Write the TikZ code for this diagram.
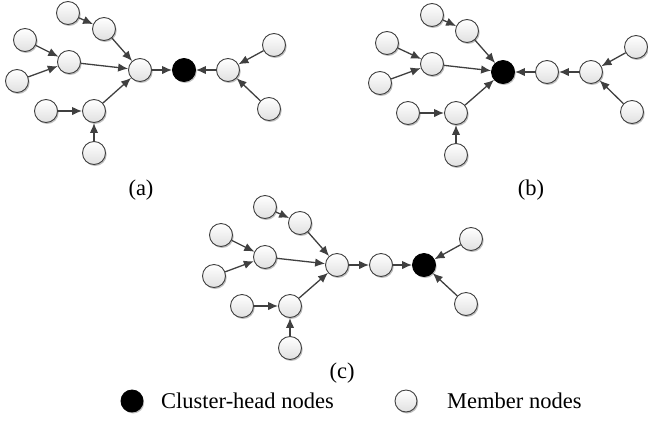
\documentclass[tikz,border=0pt]{standalone}
\usepackage{fontspec}
\setmainfont{Liberation Serif}
\usetikzlibrary{arrows.meta,shadows}
\begin{document}
\begin{tikzpicture}[x=1pt,y=-1pt,
  mem/.style={circle,draw=black!75,line width=0.9pt,minimum size=23pt,inner sep=0pt,
    top color=white,bottom color=black!12,
    drop shadow={shadow xshift=1.2pt,shadow yshift=-1.5pt,opacity=0.25,fill=black}},
  head/.style={circle,draw=black,line width=0.9pt,minimum size=23pt,inner sep=0pt,
    fill=black,
    drop shadow={shadow xshift=1.2pt,shadow yshift=-1.5pt,opacity=0.25,fill=black}},
  lhead/.style={head,minimum size=22pt},
  lmem/.style={mem,minimum size=22pt},
  con/.style={draw=black!75,line width=1.3pt,-{Latex[length=10pt,width=8.5pt]}},
  lab/.style={font=\fontsize{22.5}{26}\selectfont,inner sep=0pt}]
\useasboundingbox (0,0) rectangle (648,421);
% (a)
\node[mem] (a1) at (68,13) {};
\node[mem] (a2) at (104,29) {};
\node[mem] (a3) at (25,40) {};
\node[mem] (a4) at (69,62) {};
\node[mem] (a5) at (17,81) {};
\node[mem] (ah) at (140,70) {};
\node[head] (ak) at (184,70) {};
\node[mem] (ar1) at (228,70) {};
\node[mem] (ar2) at (274,45) {};
\node[mem] (ar3) at (269,109) {};
\node[mem] (a7) at (46,111) {};
\node[mem] (a8) at (94,111) {};
\node[mem] (a9) at (94,153) {};
\node[lab] (la) at (141,190) {(a)};
\draw[con] (a1) -- (a2);
\draw[con] (a2) -- (ah);
\draw[con] (a3) -- (a4);
\draw[con] (a5) -- (a4);
\draw[con] (a4) -- (ah);
\draw[con] (a7) -- (a8);
\draw[con] (a9) -- (a8);
\draw[con] (a8) -- (ah);
\draw[con] (ah) -- (ak);
\draw[con] (ar1) -- (ak);
\draw[con] (ar2) -- (ar1);
\draw[con] (ar3) -- (ar1);
% (b)
\node[mem] (b1) at (432,15) {};
\node[mem] (b2) at (467,31) {};
\node[mem] (b3) at (387,43) {};
\node[mem] (b4) at (432,64) {};
\node[mem] (b5) at (380,83) {};
\node[head] (bk) at (503,72) {};
\node[mem] (bm) at (547,72) {};
\node[mem] (br1) at (591,72) {};
\node[mem] (br2) at (636,47) {};
\node[mem] (br3) at (632,112) {};
\node[mem] (b7) at (408,113) {};
\node[mem] (b8) at (456,113) {};
\node[mem] (b9) at (456,155) {};
\node[lab] (lb) at (531,190) {(b)};
\draw[con] (b1) -- (b2);
\draw[con] (b2) -- (bk);
\draw[con] (b3) -- (b4);
\draw[con] (b5) -- (b4);
\draw[con] (b4) -- (bk);
\draw[con] (b7) -- (b8);
\draw[con] (b9) -- (b8);
\draw[con] (b8) -- (bk);
\draw[con] (bm) -- (bk);
\draw[con] (br1) -- (bm);
\draw[con] (br2) -- (br1);
\draw[con] (br3) -- (br1);
% (c)
\node[mem] (c1) at (265,207) {};
\node[mem] (c2) at (300,223) {};
\node[mem] (c3) at (221,235) {};
\node[mem] (c4) at (265,257) {};
\node[mem] (c5) at (214,276) {};
\node[mem] (ch) at (337,265) {};
\node[mem] (cm) at (381,265) {};
\node[head] (ck) at (424,265) {};
\node[mem] (cr2) at (471,239) {};
\node[mem] (cr3) at (466,304) {};
\node[mem] (c7) at (242,306) {};
\node[mem] (c8) at (290,306) {};
\node[mem] (c9) at (290,348) {};
\node[lab] (lc) at (342,373) {(c)};
\draw[con] (c1) -- (c2);
\draw[con] (c2) -- (ch);
\draw[con] (c3) -- (c4);
\draw[con] (c5) -- (c4);
\draw[con] (c4) -- (ch);
\draw[con] (c7) -- (c8);
\draw[con] (c9) -- (c8);
\draw[con] (c8) -- (ch);
\draw[con] (ch) -- (cm);
\draw[con] (cm) -- (ck);
\draw[con] (cr2) -- (ck);
\draw[con] (cr3) -- (ck);
% legend
\node[lhead] (lk) at (132,401) {};
\node[lab,anchor=west] (lkt) at (161,401) {Cluster-head nodes};
\node[lmem] (lm) at (406,401) {};
\node[lab,anchor=west] (lmt) at (447,401) {Member nodes};
\end{tikzpicture}
\end{document}
